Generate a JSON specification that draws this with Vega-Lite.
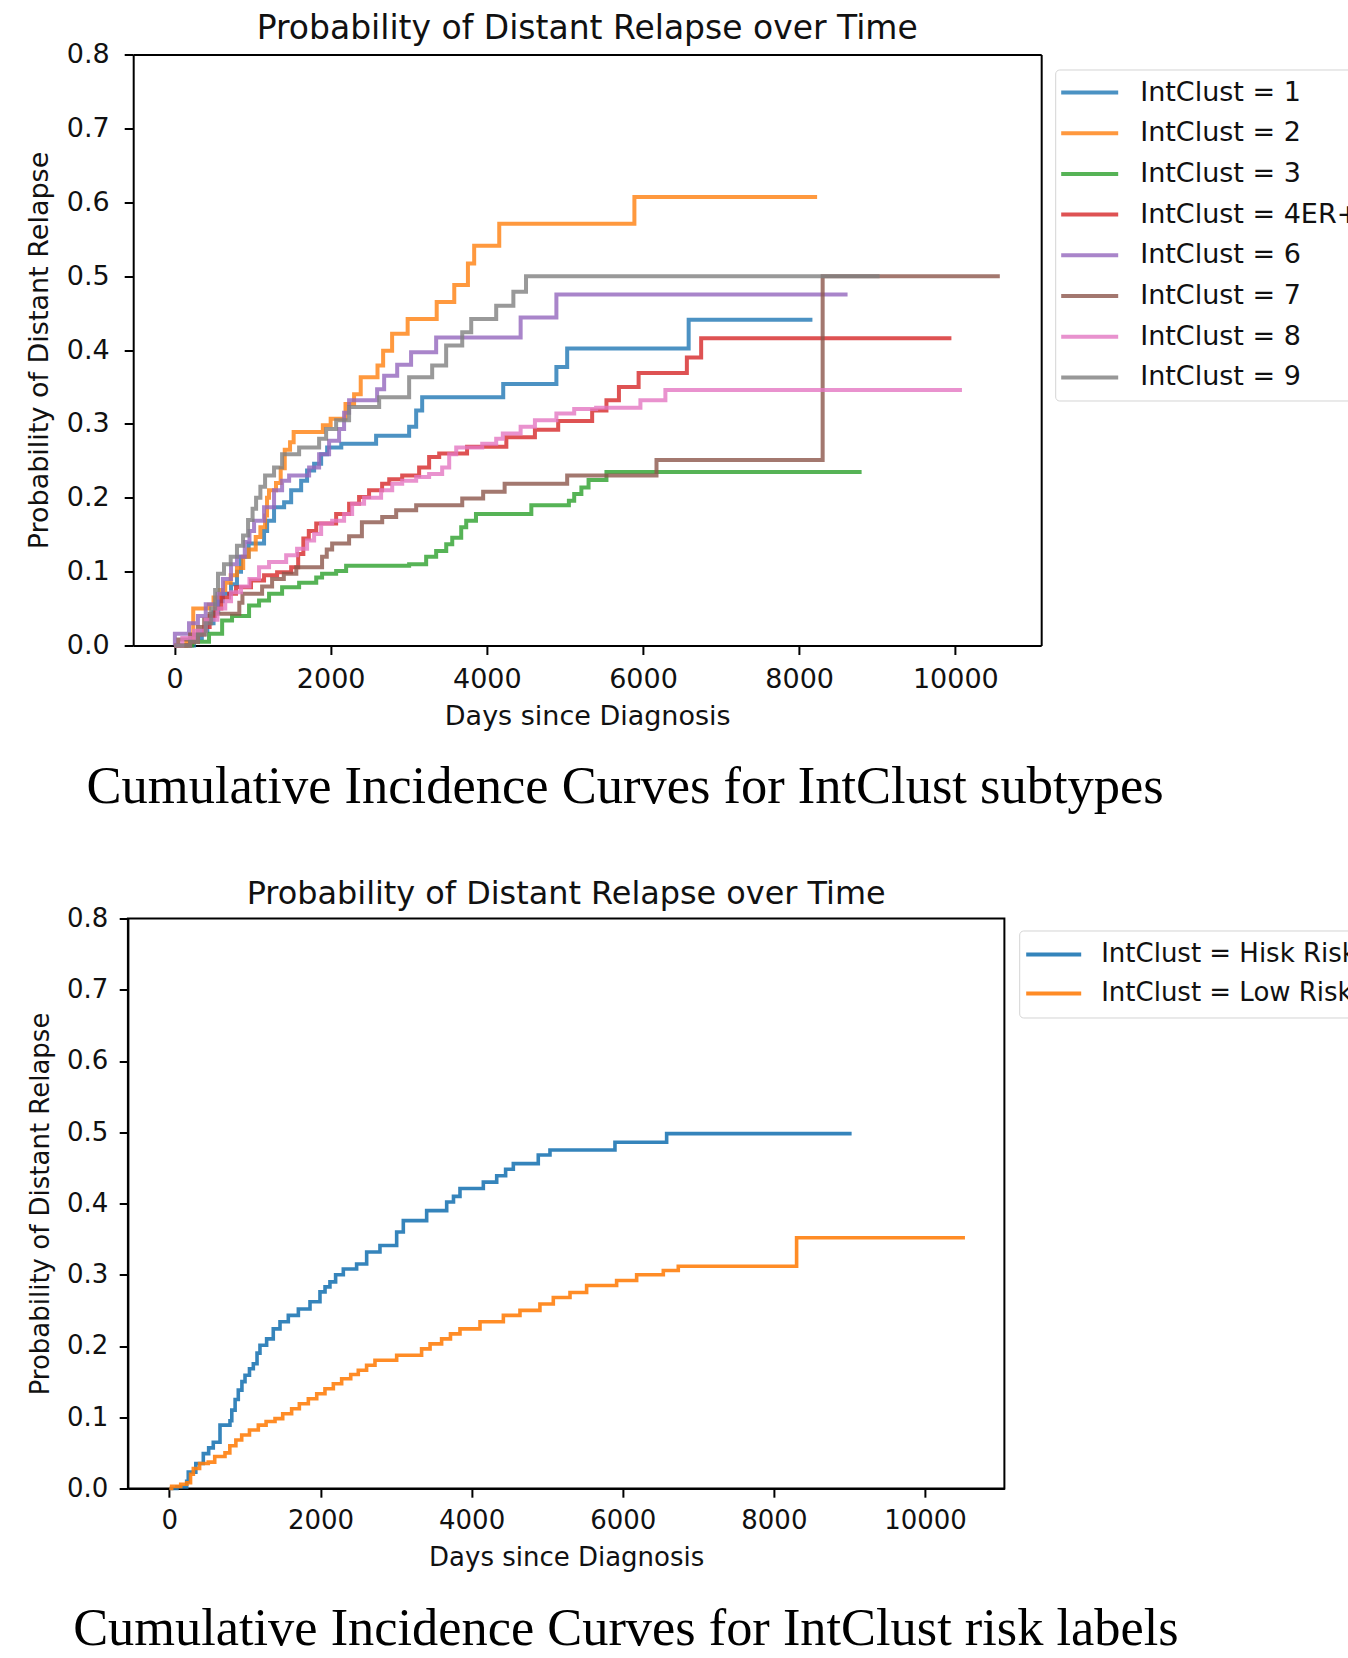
{
 "$schema": "https://vega.github.io/schema/vega-lite/v6.json",
 "padding": {"left": 24.9, "top": 12.5, "right": 0, "bottom": 0},
 "background": "white",
 "config": {
  "font": "DejaVu Sans",
  "view": {"stroke": "#000", "strokeWidth": 2},
  "axis": {"grid": false, "labelFontSize": 27, "titleFontSize": 27, "titleFontWeight": "normal", "labelColor": "#111", "titleColor": "#111", "domainColor": "#000", "domainWidth": 2, "tickColor": "#000", "tickWidth": 2, "tickSize": 9, "labelFont": "DejaVu Sans", "titleFont": "DejaVu Sans"},
  "title": {"font": "DejaVu Sans", "fontSize": 33, "fontWeight": "normal", "color": "#111"},
  "line": {"strokeWidth": 4, "opacity": 0.8, "interpolate": "step-after"}
 },
 "spacing": 63,
 "align": "none",
 "center": false,
 "resolve": {"scale": {"color": "independent"}, "legend": {"color": "independent"}},
 "vconcat": [
  {
   "title": {"text": "Cumulative Incidence Curves for IntClust subtypes", "orient": "bottom", "anchor": "start", "frame": "bounds", "font": "Liberation Serif", "fontSize": 52.5, "fontWeight": "normal", "color": "#000", "dx": 61, "offset": 33},
   "center": false,
   "vconcat": [
    {
     "title": {"text": "Probability of Distant Relapse over Time", "anchor": "middle", "frame": "group", "offset": -5, "dx": 2.65},
     "width": 913.3,
     "height": 591,
     "view": {"stroke": null},
     "data": {"values": [
      {"g":"IntClust = 1","t":0,"p":0},{"g":"IntClust = 1","t":250,"p":0.01},{"g":"IntClust = 1","t":350,"p":0.02},{"g":"IntClust = 1","t":420,"p":0.03},{"g":"IntClust = 1","t":500,"p":0.045},{"g":"IntClust = 1","t":560,"p":0.06},{"g":"IntClust = 1","t":620,"p":0.07},{"g":"IntClust = 1","t":724,"p":0.083},{"g":"IntClust = 1","t":800,"p":0.1},{"g":"IntClust = 1","t":852,"p":0.12},{"g":"IntClust = 1","t":950,"p":0.138},{"g":"IntClust = 1","t":1147,"p":0.155},{"g":"IntClust = 1","t":1186,"p":0.169},{"g":"IntClust = 1","t":1275,"p":0.187},{"g":"IntClust = 1","t":1404,"p":0.194},{"g":"IntClust = 1","t":1494,"p":0.21},{"g":"IntClust = 1","t":1622,"p":0.223},{"g":"IntClust = 1","t":1698,"p":0.237},{"g":"IntClust = 1","t":1788,"p":0.246},{"g":"IntClust = 1","t":1878,"p":0.259},{"g":"IntClust = 1","t":1955,"p":0.268},{"g":"IntClust = 1","t":2136,"p":0.273},{"g":"IntClust = 1","t":2582,"p":0.284},{"g":"IntClust = 1","t":3005,"p":0.296},{"g":"IntClust = 1","t":3095,"p":0.318},{"g":"IntClust = 1","t":3172,"p":0.336},{"g":"IntClust = 1","t":4210,"p":0.354},{"g":"IntClust = 1","t":4891,"p":0.377},{"g":"IntClust = 1","t":5029,"p":0.402},{"g":"IntClust = 1","t":6585,"p":0.441},{"g":"IntClust = 1","t":8170,"p":0.441},
      {"g":"IntClust = 2","t":0,"p":0},{"g":"IntClust = 2","t":150,"p":0.004},{"g":"IntClust = 2","t":240,"p":0.05},{"g":"IntClust = 2","t":440,"p":0.055},{"g":"IntClust = 2","t":500,"p":0.065},{"g":"IntClust = 2","t":580,"p":0.075},{"g":"IntClust = 2","t":650,"p":0.085},{"g":"IntClust = 2","t":720,"p":0.095},{"g":"IntClust = 2","t":800,"p":0.105},{"g":"IntClust = 2","t":880,"p":0.12},{"g":"IntClust = 2","t":950,"p":0.13},{"g":"IntClust = 2","t":1040,"p":0.147},{"g":"IntClust = 2","t":1100,"p":0.16},{"g":"IntClust = 2","t":1160,"p":0.176},{"g":"IntClust = 2","t":1185,"p":0.2},{"g":"IntClust = 2","t":1210,"p":0.21},{"g":"IntClust = 2","t":1300,"p":0.22},{"g":"IntClust = 2","t":1360,"p":0.24},{"g":"IntClust = 2","t":1412,"p":0.265},{"g":"IntClust = 2","t":1480,"p":0.275},{"g":"IntClust = 2","t":1526,"p":0.289},{"g":"IntClust = 2","t":1900,"p":0.298},{"g":"IntClust = 2","t":2000,"p":0.307},{"g":"IntClust = 2","t":2190,"p":0.327},{"g":"IntClust = 2","t":2300,"p":0.34},{"g":"IntClust = 2","t":2385,"p":0.363},{"g":"IntClust = 2","t":2600,"p":0.379},{"g":"IntClust = 2","t":2672,"p":0.399},{"g":"IntClust = 2","t":2787,"p":0.422},{"g":"IntClust = 2","t":2986,"p":0.442},{"g":"IntClust = 2","t":3358,"p":0.465},{"g":"IntClust = 2","t":3583,"p":0.488},{"g":"IntClust = 2","t":3758,"p":0.517},{"g":"IntClust = 2","t":3838,"p":0.541},{"g":"IntClust = 2","t":4159,"p":0.571},{"g":"IntClust = 2","t":5890,"p":0.607},{"g":"IntClust = 2","t":8230,"p":0.607},
      {"g":"IntClust = 3","t":0,"p":0},{"g":"IntClust = 3","t":228,"p":0.005},{"g":"IntClust = 3","t":442,"p":0.016},{"g":"IntClust = 3","t":610,"p":0.034},{"g":"IntClust = 3","t":737,"p":0.04},{"g":"IntClust = 3","t":955,"p":0.054},{"g":"IntClust = 3","t":1083,"p":0.061},{"g":"IntClust = 3","t":1211,"p":0.07},{"g":"IntClust = 3","t":1378,"p":0.079},{"g":"IntClust = 3","t":1596,"p":0.085},{"g":"IntClust = 3","t":1815,"p":0.092},{"g":"IntClust = 3","t":1890,"p":0.097},{"g":"IntClust = 3","t":2070,"p":0.101},{"g":"IntClust = 3","t":2198,"p":0.108},{"g":"IntClust = 3","t":3005,"p":0.11},{"g":"IntClust = 3","t":3223,"p":0.12},{"g":"IntClust = 3","t":3351,"p":0.128},{"g":"IntClust = 3","t":3480,"p":0.137},{"g":"IntClust = 3","t":3557,"p":0.146},{"g":"IntClust = 3","t":3672,"p":0.16},{"g":"IntClust = 3","t":3736,"p":0.169},{"g":"IntClust = 3","t":3861,"p":0.178},{"g":"IntClust = 3","t":4570,"p":0.19},{"g":"IntClust = 3","t":5051,"p":0.196},{"g":"IntClust = 3","t":5119,"p":0.205},{"g":"IntClust = 3","t":5211,"p":0.214},{"g":"IntClust = 3","t":5303,"p":0.224},{"g":"IntClust = 3","t":5532,"p":0.235},{"g":"IntClust = 3","t":8800,"p":0.235},
      {"g":"IntClust = 4ER+","t":0,"p":0},{"g":"IntClust = 4ER+","t":200,"p":0.005},{"g":"IntClust = 4ER+","t":300,"p":0.015},{"g":"IntClust = 4ER+","t":380,"p":0.025},{"g":"IntClust = 4ER+","t":450,"p":0.04},{"g":"IntClust = 4ER+","t":520,"p":0.05},{"g":"IntClust = 4ER+","t":600,"p":0.065},{"g":"IntClust = 4ER+","t":700,"p":0.07},{"g":"IntClust = 4ER+","t":788,"p":0.079},{"g":"IntClust = 4ER+","t":980,"p":0.088},{"g":"IntClust = 4ER+","t":1147,"p":0.095},{"g":"IntClust = 4ER+","t":1314,"p":0.099},{"g":"IntClust = 4ER+","t":1494,"p":0.106},{"g":"IntClust = 4ER+","t":1584,"p":0.124},{"g":"IntClust = 4ER+","t":1650,"p":0.145},{"g":"IntClust = 4ER+","t":1720,"p":0.155},{"g":"IntClust = 4ER+","t":1815,"p":0.165},{"g":"IntClust = 4ER+","t":2070,"p":0.178},{"g":"IntClust = 4ER+","t":2236,"p":0.192},{"g":"IntClust = 4ER+","t":2364,"p":0.201},{"g":"IntClust = 4ER+","t":2492,"p":0.21},{"g":"IntClust = 4ER+","t":2659,"p":0.219},{"g":"IntClust = 4ER+","t":2750,"p":0.225},{"g":"IntClust = 4ER+","t":2916,"p":0.23},{"g":"IntClust = 4ER+","t":3133,"p":0.241},{"g":"IntClust = 4ER+","t":3261,"p":0.255},{"g":"IntClust = 4ER+","t":3390,"p":0.26},{"g":"IntClust = 4ER+","t":3747,"p":0.269},{"g":"IntClust = 4ER+","t":4250,"p":0.282},{"g":"IntClust = 4ER+","t":4616,"p":0.292},{"g":"IntClust = 4ER+","t":4914,"p":0.304},{"g":"IntClust = 4ER+","t":5349,"p":0.318},{"g":"IntClust = 4ER+","t":5532,"p":0.332},{"g":"IntClust = 4ER+","t":5692,"p":0.35},{"g":"IntClust = 4ER+","t":5944,"p":0.369},{"g":"IntClust = 4ER+","t":6562,"p":0.39},{"g":"IntClust = 4ER+","t":6745,"p":0.416},{"g":"IntClust = 4ER+","t":9950,"p":0.416},
      {"g":"IntClust = 6","t":0,"p":0},{"g":"IntClust = 6","t":5,"p":0.016},{"g":"IntClust = 6","t":186,"p":0.03},{"g":"IntClust = 6","t":300,"p":0.04},{"g":"IntClust = 6","t":400,"p":0.056},{"g":"IntClust = 6","t":550,"p":0.07},{"g":"IntClust = 6","t":620,"p":0.09},{"g":"IntClust = 6","t":724,"p":0.11},{"g":"IntClust = 6","t":800,"p":0.12},{"g":"IntClust = 6","t":900,"p":0.14},{"g":"IntClust = 6","t":960,"p":0.155},{"g":"IntClust = 6","t":1019,"p":0.169},{"g":"IntClust = 6","t":1147,"p":0.187},{"g":"IntClust = 6","t":1275,"p":0.21},{"g":"IntClust = 6","t":1378,"p":0.223},{"g":"IntClust = 6","t":1468,"p":0.23},{"g":"IntClust = 6","t":1724,"p":0.241},{"g":"IntClust = 6","t":1852,"p":0.259},{"g":"IntClust = 6","t":1980,"p":0.277},{"g":"IntClust = 6","t":2108,"p":0.293},{"g":"IntClust = 6","t":2172,"p":0.315},{"g":"IntClust = 6","t":2236,"p":0.332},{"g":"IntClust = 6","t":2595,"p":0.347},{"g":"IntClust = 6","t":2685,"p":0.365},{"g":"IntClust = 6","t":2852,"p":0.38},{"g":"IntClust = 6","t":3030,"p":0.397},{"g":"IntClust = 6","t":3351,"p":0.417},{"g":"IntClust = 6","t":4433,"p":0.444},{"g":"IntClust = 6","t":4891,"p":0.475},{"g":"IntClust = 6","t":8620,"p":0.475},
      {"g":"IntClust = 7","t":0,"p":0},{"g":"IntClust = 7","t":50,"p":0.008},{"g":"IntClust = 7","t":200,"p":0.015},{"g":"IntClust = 7","t":300,"p":0.025},{"g":"IntClust = 7","t":380,"p":0.035},{"g":"IntClust = 7","t":450,"p":0.043},{"g":"IntClust = 7","t":830,"p":0.058},{"g":"IntClust = 7","t":870,"p":0.07},{"g":"IntClust = 7","t":1122,"p":0.08},{"g":"IntClust = 7","t":1250,"p":0.09},{"g":"IntClust = 7","t":1400,"p":0.097},{"g":"IntClust = 7","t":1560,"p":0.106},{"g":"IntClust = 7","t":1890,"p":0.12},{"g":"IntClust = 7","t":1950,"p":0.13},{"g":"IntClust = 7","t":2019,"p":0.138},{"g":"IntClust = 7","t":2236,"p":0.148},{"g":"IntClust = 7","t":2400,"p":0.167},{"g":"IntClust = 7","t":2660,"p":0.174},{"g":"IntClust = 7","t":2839,"p":0.183},{"g":"IntClust = 7","t":3095,"p":0.19},{"g":"IntClust = 7","t":3685,"p":0.199},{"g":"IntClust = 7","t":3953,"p":0.208},{"g":"IntClust = 7","t":4228,"p":0.219},{"g":"IntClust = 7","t":5029,"p":0.23},{"g":"IntClust = 7","t":6173,"p":0.251},{"g":"IntClust = 7","t":8301,"p":0.5},{"g":"IntClust = 7","t":10570,"p":0.5},
      {"g":"IntClust = 8","t":0,"p":0},{"g":"IntClust = 8","t":100,"p":0.01},{"g":"IntClust = 8","t":250,"p":0.02},{"g":"IntClust = 8","t":400,"p":0.035},{"g":"IntClust = 8","t":550,"p":0.05},{"g":"IntClust = 8","t":650,"p":0.06},{"g":"IntClust = 8","t":724,"p":0.072},{"g":"IntClust = 8","t":852,"p":0.08},{"g":"IntClust = 8","t":960,"p":0.09},{"g":"IntClust = 8","t":1083,"p":0.106},{"g":"IntClust = 8","t":1211,"p":0.113},{"g":"IntClust = 8","t":1430,"p":0.122},{"g":"IntClust = 8","t":1570,"p":0.131},{"g":"IntClust = 8","t":1698,"p":0.142},{"g":"IntClust = 8","t":1788,"p":0.151},{"g":"IntClust = 8","t":1878,"p":0.165},{"g":"IntClust = 8","t":2019,"p":0.169},{"g":"IntClust = 8","t":2172,"p":0.178},{"g":"IntClust = 8","t":2275,"p":0.192},{"g":"IntClust = 8","t":2428,"p":0.2},{"g":"IntClust = 8","t":2646,"p":0.21},{"g":"IntClust = 8","t":2788,"p":0.219},{"g":"IntClust = 8","t":2916,"p":0.223},{"g":"IntClust = 8","t":3095,"p":0.228},{"g":"IntClust = 8","t":3261,"p":0.232},{"g":"IntClust = 8","t":3428,"p":0.241},{"g":"IntClust = 8","t":3518,"p":0.259},{"g":"IntClust = 8","t":3608,"p":0.268},{"g":"IntClust = 8","t":3941,"p":0.273},{"g":"IntClust = 8","t":4120,"p":0.28},{"g":"IntClust = 8","t":4205,"p":0.287},{"g":"IntClust = 8","t":4433,"p":0.296},{"g":"IntClust = 8","t":4616,"p":0.305},{"g":"IntClust = 8","t":4891,"p":0.314},{"g":"IntClust = 8","t":5119,"p":0.32},{"g":"IntClust = 8","t":5400,"p":0.322},{"g":"IntClust = 8","t":5967,"p":0.332},{"g":"IntClust = 8","t":6287,"p":0.346},{"g":"IntClust = 8","t":10085,"p":0.346},
      {"g":"IntClust = 9","t":0,"p":0},{"g":"IntClust = 9","t":200,"p":0.005},{"g":"IntClust = 9","t":300,"p":0.015},{"g":"IntClust = 9","t":400,"p":0.03},{"g":"IntClust = 9","t":470,"p":0.05},{"g":"IntClust = 9","t":520,"p":0.075},{"g":"IntClust = 9","t":557,"p":0.097},{"g":"IntClust = 9","t":634,"p":0.11},{"g":"IntClust = 9","t":720,"p":0.12},{"g":"IntClust = 9","t":800,"p":0.135},{"g":"IntClust = 9","t":878,"p":0.149},{"g":"IntClust = 9","t":942,"p":0.17},{"g":"IntClust = 9","t":1000,"p":0.185},{"g":"IntClust = 9","t":1045,"p":0.2},{"g":"IntClust = 9","t":1100,"p":0.215},{"g":"IntClust = 9","t":1160,"p":0.23},{"g":"IntClust = 9","t":1275,"p":0.241},{"g":"IntClust = 9","t":1378,"p":0.259},{"g":"IntClust = 9","t":1596,"p":0.268},{"g":"IntClust = 9","t":1852,"p":0.28},{"g":"IntClust = 9","t":1942,"p":0.293},{"g":"IntClust = 9","t":2070,"p":0.305},{"g":"IntClust = 9","t":2236,"p":0.323},{"g":"IntClust = 9","t":2621,"p":0.336},{"g":"IntClust = 9","t":3005,"p":0.363},{"g":"IntClust = 9","t":3300,"p":0.379},{"g":"IntClust = 9","t":3479,"p":0.406},{"g":"IntClust = 9","t":3685,"p":0.424},{"g":"IntClust = 9","t":3800,"p":0.442},{"g":"IntClust = 9","t":4120,"p":0.46},{"g":"IntClust = 9","t":4340,"p":0.479},{"g":"IntClust = 9","t":4502,"p":0.5},{"g":"IntClust = 9","t":9030,"p":0.5}
     ]},
     "resolve": {"axis": {"x": "independent", "y": "independent"}},
     "layer": [
      {
       "mark": {"type": "line"},
       "encoding": {
        "x": {"field": "t", "type": "quantitative", "scale": {"domain": [-529, 11100], "nice": false, "zero": false, "range": [5.3, 913.3]}, "axis": {"orient": "bottom", "title": "Days since Diagnosis", "values": [0, 2000, 4000, 6000, 8000, 10000], "format": "d", "labelPadding": 12, "titlePadding": 10.5}},
        "y": {"field": "p", "type": "quantitative", "scale": {"domain": [0, 0.8], "nice": false}, "axis": {"orient": "left", "offset": -5.3, "title": "Probability of Distant Relapse", "values": [0, 0.1, 0.2, 0.3, 0.4, 0.5, 0.6, 0.7, 0.8], "format": ".1f", "labelPadding": 15, "titlePadding": 12.7}},
        "color": {"field": "g", "type": "nominal", "sort": null,
         "scale": {"domain": ["IntClust = 1", "IntClust = 2", "IntClust = 3", "IntClust = 4ER+", "IntClust = 6", "IntClust = 7", "IntClust = 8", "IntClust = 9"], "range": ["#1f77b4", "#ff7f0e", "#2ca02c", "#d62728", "#9467bd", "#8c564b", "#e377c2", "#7f7f7f"]},
         "legend": {"orient": "none", "legendX": 927.3, "legendY": 15, "title": null, "symbolType": "stroke", "symbolSize": 3364, "symbolStrokeWidth": 4, "symbolOpacity": 0.8, "symbolOffset": -3, "labelFontSize": 27, "labelFont": "DejaVu Sans", "labelColor": "#111", "labelOffset": 20, "labelLimit": 400, "padding": 6, "clipHeight": 34, "rowPadding": 6.7, "strokeColor": "#d4d4d4", "fillColor": "#ffffff", "cornerRadius": 4}}
       }
      },
      {
       "mark": {"type": "line", "opacity": 0, "strokeWidth": 0},
       "encoding": {
        "x": {"field": "t", "type": "quantitative", "axis": {"orient": "top", "title": null, "labels": false, "ticks": false, "domain": true}},
        "y": {"field": "p", "type": "quantitative", "axis": {"orient": "right", "title": null, "labels": false, "ticks": false, "domain": true}}
       }
      }
     ]
    }
   ]
  },
  {
   "title": {"text": "Cumulative Incidence Curves for IntClust risk labels", "orient": "bottom", "anchor": "start", "frame": "bounds", "font": "Liberation Serif", "fontSize": 52.4, "fontWeight": "normal", "color": "#000", "dx": 47, "offset": 33},
   "center": false,
   "vconcat": [
    {
     "title": {"text": "Probability of Distant Relapse over Time", "anchor": "middle", "frame": "group", "offset": -5, "fontSize": 31.9},
     "width": 876.5,
     "height": 570,
     "data": {"values": [
      {"g":"IntClust = Hisk Risk","t":0,"p":0},{"g":"IntClust = Hisk Risk","t":100,"p":0.002},{"g":"IntClust = Hisk Risk","t":229,"p":0.01},{"g":"IntClust = Hisk Risk","t":250,"p":0.023},{"g":"IntClust = Hisk Risk","t":350,"p":0.035},{"g":"IntClust = Hisk Risk","t":449,"p":0.049},{"g":"IntClust = Hisk Risk","t":520,"p":0.057},{"g":"IntClust = Hisk Risk","t":581,"p":0.065},{"g":"IntClust = Hisk Risk","t":670,"p":0.089},{"g":"IntClust = Hisk Risk","t":802,"p":0.095},{"g":"IntClust = Hisk Risk","t":826,"p":0.11},{"g":"IntClust = Hisk Risk","t":870,"p":0.125},{"g":"IntClust = Hisk Risk","t":912,"p":0.138},{"g":"IntClust = Hisk Risk","t":960,"p":0.15},{"g":"IntClust = Hisk Risk","t":1001,"p":0.159},{"g":"IntClust = Hisk Risk","t":1060,"p":0.168},{"g":"IntClust = Hisk Risk","t":1111,"p":0.175},{"g":"IntClust = Hisk Risk","t":1160,"p":0.19},{"g":"IntClust = Hisk Risk","t":1199,"p":0.201},{"g":"IntClust = Hisk Risk","t":1287,"p":0.21},{"g":"IntClust = Hisk Risk","t":1375,"p":0.224},{"g":"IntClust = Hisk Risk","t":1464,"p":0.234},{"g":"IntClust = Hisk Risk","t":1574,"p":0.243},{"g":"IntClust = Hisk Risk","t":1707,"p":0.252},{"g":"IntClust = Hisk Risk","t":1861,"p":0.262},{"g":"IntClust = Hisk Risk","t":1993,"p":0.276},{"g":"IntClust = Hisk Risk","t":2060,"p":0.283},{"g":"IntClust = Hisk Risk","t":2125,"p":0.29},{"g":"IntClust = Hisk Risk","t":2200,"p":0.3},{"g":"IntClust = Hisk Risk","t":2302,"p":0.308},{"g":"IntClust = Hisk Risk","t":2478,"p":0.315},{"g":"IntClust = Hisk Risk","t":2611,"p":0.332},{"g":"IntClust = Hisk Risk","t":2787,"p":0.341},{"g":"IntClust = Hisk Risk","t":3008,"p":0.36},{"g":"IntClust = Hisk Risk","t":3096,"p":0.376},{"g":"IntClust = Hisk Risk","t":3405,"p":0.39},{"g":"IntClust = Hisk Risk","t":3670,"p":0.402},{"g":"IntClust = Hisk Risk","t":3760,"p":0.41},{"g":"IntClust = Hisk Risk","t":3846,"p":0.421},{"g":"IntClust = Hisk Risk","t":4155,"p":0.43},{"g":"IntClust = Hisk Risk","t":4332,"p":0.439},{"g":"IntClust = Hisk Risk","t":4450,"p":0.448},{"g":"IntClust = Hisk Risk","t":4552,"p":0.456},{"g":"IntClust = Hisk Risk","t":4882,"p":0.468},{"g":"IntClust = Hisk Risk","t":5037,"p":0.475},{"g":"IntClust = Hisk Risk","t":5897,"p":0.486},{"g":"IntClust = Hisk Risk","t":6581,"p":0.498},{"g":"IntClust = Hisk Risk","t":9029,"p":0.498},
      {"g":"IntClust = Low Risk","t":0,"p":0},{"g":"IntClust = Low Risk","t":30,"p":0.003},{"g":"IntClust = Low Risk","t":150,"p":0.006},{"g":"IntClust = Low Risk","t":230,"p":0.008},{"g":"IntClust = Low Risk","t":280,"p":0.02},{"g":"IntClust = Low Risk","t":317,"p":0.028},{"g":"IntClust = Low Risk","t":400,"p":0.035},{"g":"IntClust = Low Risk","t":515,"p":0.037},{"g":"IntClust = Low Risk","t":600,"p":0.045},{"g":"IntClust = Low Risk","t":736,"p":0.05},{"g":"IntClust = Low Risk","t":800,"p":0.06},{"g":"IntClust = Low Risk","t":880,"p":0.068},{"g":"IntClust = Low Risk","t":957,"p":0.075},{"g":"IntClust = Low Risk","t":1060,"p":0.082},{"g":"IntClust = Low Risk","t":1177,"p":0.089},{"g":"IntClust = Low Risk","t":1280,"p":0.094},{"g":"IntClust = Low Risk","t":1398,"p":0.098},{"g":"IntClust = Low Risk","t":1500,"p":0.105},{"g":"IntClust = Low Risk","t":1618,"p":0.112},{"g":"IntClust = Low Risk","t":1720,"p":0.119},{"g":"IntClust = Low Risk","t":1839,"p":0.126},{"g":"IntClust = Low Risk","t":1950,"p":0.133},{"g":"IntClust = Low Risk","t":2059,"p":0.14},{"g":"IntClust = Low Risk","t":2170,"p":0.147},{"g":"IntClust = Low Risk","t":2280,"p":0.154},{"g":"IntClust = Low Risk","t":2400,"p":0.16},{"g":"IntClust = Low Risk","t":2500,"p":0.166},{"g":"IntClust = Low Risk","t":2610,"p":0.173},{"g":"IntClust = Low Risk","t":2721,"p":0.18},{"g":"IntClust = Low Risk","t":3008,"p":0.187},{"g":"IntClust = Low Risk","t":3338,"p":0.196},{"g":"IntClust = Low Risk","t":3450,"p":0.203},{"g":"IntClust = Low Risk","t":3603,"p":0.21},{"g":"IntClust = Low Risk","t":3720,"p":0.217},{"g":"IntClust = Low Risk","t":3846,"p":0.224},{"g":"IntClust = Low Risk","t":4111,"p":0.234},{"g":"IntClust = Low Risk","t":4420,"p":0.243},{"g":"IntClust = Low Risk","t":4640,"p":0.25},{"g":"IntClust = Low Risk","t":4904,"p":0.259},{"g":"IntClust = Low Risk","t":5081,"p":0.268},{"g":"IntClust = Low Risk","t":5302,"p":0.275},{"g":"IntClust = Low Risk","t":5522,"p":0.285},{"g":"IntClust = Low Risk","t":5919,"p":0.292},{"g":"IntClust = Low Risk","t":6184,"p":0.3},{"g":"IntClust = Low Risk","t":6537,"p":0.306},{"g":"IntClust = Low Risk","t":6735,"p":0.312},{"g":"IntClust = Low Risk","t":8301,"p":0.352},{"g":"IntClust = Low Risk","t":10529,"p":0.352}
     ]},
     "mark": {"type": "line", "opacity": 0.9, "strokeWidth": 3.6},
     "encoding": {
      "x": {"field": "t", "type": "quantitative", "scale": {"domain": [-549, 11051], "nice": false, "zero": false}, "axis": {"title": "Days since Diagnosis", "values": [0, 2000, 4000, 6000, 8000, 10000], "format": "d", "labelFontSize": 26, "titleFontSize": 26, "tickSize": 8.7, "labelPadding": 10.3, "titlePadding": 11}},
      "y": {"field": "p", "type": "quantitative", "scale": {"domain": [0, 0.8], "nice": false}, "axis": {"title": "Probability of Distant Relapse", "values": [0, 0.1, 0.2, 0.3, 0.4, 0.5, 0.6, 0.7, 0.8], "format": ".1f", "labelFontSize": 26, "titleFontSize": 26, "tickSize": 8.7, "labelPadding": 11.4, "titlePadding": 13.3}},
      "color": {"field": "g", "type": "nominal", "sort": null,
       "scale": {"domain": ["IntClust = Hisk Risk", "IntClust = Low Risk"], "range": ["#1f77b4", "#ff7f0e"]},
       "legend": {"orient": "none", "legendX": 891.3, "legendY": 12, "title": null, "symbolType": "stroke", "symbolSize": 3364, "symbolStrokeWidth": 3.6, "symbolOpacity": 0.9, "symbolOffset": -5, "labelFontSize": 26, "labelFont": "DejaVu Sans", "labelColor": "#111", "labelOffset": 18, "labelLimit": 400, "padding": 7, "clipHeight": 34, "rowPadding": 5, "strokeColor": "#d4d4d4", "fillColor": "#ffffff", "cornerRadius": 4}}
     }
    }
   ]
  }
 ]
}
